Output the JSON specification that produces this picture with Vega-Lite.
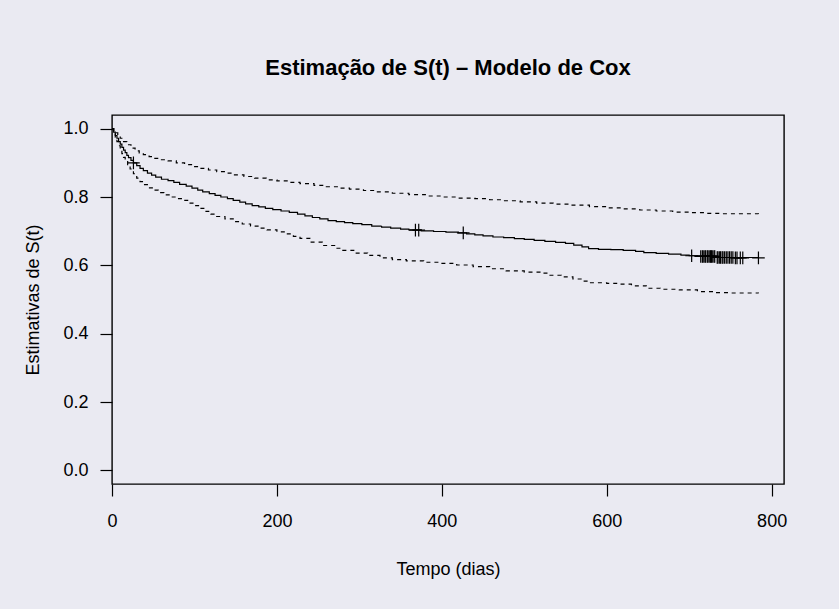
{
  "$schema": "https://vega.github.io/schema/vega-lite/v6.json",
  "width": 672,
  "height": 369,
  "autosize": {"type": "none"},
  "padding": {"left": 112, "top": 115, "right": 55, "bottom": 125},
  "background": "#eaeaf2",
  "title": {
    "text": "Estimação de S(t) – Modelo de Cox",
    "font": "Liberation Sans",
    "fontSize": 22,
    "fontWeight": "bold",
    "color": "black",
    "anchor": "middle",
    "offset": 35
  },
  "config": {
    "view": {"stroke": "black", "strokeWidth": 1.4, "fill": null},
    "axis": {
      "labelFont": "Liberation Sans",
      "labelFontSize": 18,
      "labelColor": "black",
      "labelFlush": false,
      "titleFont": "Liberation Sans",
      "titleFontSize": 18,
      "titleFontWeight": "normal",
      "titleColor": "black",
      "tickColor": "black",
      "tickSize": 12,
      "tickWidth": 1.2,
      "domain": false,
      "grid": false
    }
  },
  "datasets": {
    "curves": [
      {"t": 0, "s": 1.0, "band": "est"},
      {"t": 2, "s": 0.99, "band": "est"},
      {"t": 4, "s": 0.98, "band": "est"},
      {"t": 6, "s": 0.972, "band": "est"},
      {"t": 8, "s": 0.962, "band": "est"},
      {"t": 10, "s": 0.955, "band": "est"},
      {"t": 12, "s": 0.945, "band": "est"},
      {"t": 14, "s": 0.937, "band": "est"},
      {"t": 16, "s": 0.93, "band": "est"},
      {"t": 18, "s": 0.922, "band": "est"},
      {"t": 20, "s": 0.915, "band": "est"},
      {"t": 23, "s": 0.907, "band": "est"},
      {"t": 26, "s": 0.9, "band": "est"},
      {"t": 30, "s": 0.892, "band": "est"},
      {"t": 34, "s": 0.884, "band": "est"},
      {"t": 38, "s": 0.877, "band": "est"},
      {"t": 43, "s": 0.87, "band": "est"},
      {"t": 48, "s": 0.864, "band": "est"},
      {"t": 53, "s": 0.858, "band": "est"},
      {"t": 60, "s": 0.852, "band": "est"},
      {"t": 68, "s": 0.848, "band": "est"},
      {"t": 75, "s": 0.843, "band": "est"},
      {"t": 82, "s": 0.837, "band": "est"},
      {"t": 90, "s": 0.832, "band": "est"},
      {"t": 97, "s": 0.826, "band": "est"},
      {"t": 104, "s": 0.82, "band": "est"},
      {"t": 110, "s": 0.815, "band": "est"},
      {"t": 118, "s": 0.81, "band": "est"},
      {"t": 125, "s": 0.805, "band": "est"},
      {"t": 132, "s": 0.8, "band": "est"},
      {"t": 140, "s": 0.795, "band": "est"},
      {"t": 147, "s": 0.79, "band": "est"},
      {"t": 155, "s": 0.785, "band": "est"},
      {"t": 162, "s": 0.78, "band": "est"},
      {"t": 170, "s": 0.775, "band": "est"},
      {"t": 178, "s": 0.771, "band": "est"},
      {"t": 186, "s": 0.767, "band": "est"},
      {"t": 195, "s": 0.763, "band": "est"},
      {"t": 205, "s": 0.759, "band": "est"},
      {"t": 215, "s": 0.755, "band": "est"},
      {"t": 225, "s": 0.75, "band": "est"},
      {"t": 234, "s": 0.745, "band": "est"},
      {"t": 243, "s": 0.74, "band": "est"},
      {"t": 252, "s": 0.736, "band": "est"},
      {"t": 262, "s": 0.731, "band": "est"},
      {"t": 272, "s": 0.728, "band": "est"},
      {"t": 282, "s": 0.725, "band": "est"},
      {"t": 292, "s": 0.722, "band": "est"},
      {"t": 303, "s": 0.719, "band": "est"},
      {"t": 315, "s": 0.715, "band": "est"},
      {"t": 327, "s": 0.712, "band": "est"},
      {"t": 338, "s": 0.709, "band": "est"},
      {"t": 350, "s": 0.706, "band": "est"},
      {"t": 360, "s": 0.704, "band": "est"},
      {"t": 375, "s": 0.701, "band": "est"},
      {"t": 390, "s": 0.699, "band": "est"},
      {"t": 405, "s": 0.697, "band": "est"},
      {"t": 420, "s": 0.695, "band": "est"},
      {"t": 430, "s": 0.692, "band": "est"},
      {"t": 440, "s": 0.689, "band": "est"},
      {"t": 450, "s": 0.686, "band": "est"},
      {"t": 462, "s": 0.683, "band": "est"},
      {"t": 475, "s": 0.681, "band": "est"},
      {"t": 488, "s": 0.678, "band": "est"},
      {"t": 500, "s": 0.676, "band": "est"},
      {"t": 512, "s": 0.673, "band": "est"},
      {"t": 525, "s": 0.67, "band": "est"},
      {"t": 538, "s": 0.667, "band": "est"},
      {"t": 550, "s": 0.664, "band": "est"},
      {"t": 560, "s": 0.659, "band": "est"},
      {"t": 570, "s": 0.654, "band": "est"},
      {"t": 578, "s": 0.649, "band": "est"},
      {"t": 590, "s": 0.647, "band": "est"},
      {"t": 605, "s": 0.646, "band": "est"},
      {"t": 620, "s": 0.644, "band": "est"},
      {"t": 635, "s": 0.641, "band": "est"},
      {"t": 645, "s": 0.637, "band": "est"},
      {"t": 660, "s": 0.635, "band": "est"},
      {"t": 675, "s": 0.633, "band": "est"},
      {"t": 690, "s": 0.63, "band": "est"},
      {"t": 700, "s": 0.628, "band": "est"},
      {"t": 712, "s": 0.626, "band": "est"},
      {"t": 733, "s": 0.623, "band": "est"},
      {"t": 784, "s": 0.622, "band": "est"},
      {"t": 0, "s": 1.0, "band": "upper"},
      {"t": 2, "s": 0.995, "band": "upper"},
      {"t": 4, "s": 0.988, "band": "upper"},
      {"t": 7, "s": 0.98, "band": "upper"},
      {"t": 10, "s": 0.972, "band": "upper"},
      {"t": 14, "s": 0.962, "band": "upper"},
      {"t": 18, "s": 0.953, "band": "upper"},
      {"t": 23, "s": 0.943, "band": "upper"},
      {"t": 28, "s": 0.935, "band": "upper"},
      {"t": 33, "s": 0.929, "band": "upper"},
      {"t": 38, "s": 0.924, "band": "upper"},
      {"t": 45, "s": 0.918, "band": "upper"},
      {"t": 52, "s": 0.913, "band": "upper"},
      {"t": 60, "s": 0.909, "band": "upper"},
      {"t": 68, "s": 0.906, "band": "upper"},
      {"t": 78, "s": 0.9, "band": "upper"},
      {"t": 88, "s": 0.895, "band": "upper"},
      {"t": 98, "s": 0.889, "band": "upper"},
      {"t": 107, "s": 0.884, "band": "upper"},
      {"t": 117, "s": 0.879, "band": "upper"},
      {"t": 127, "s": 0.874, "band": "upper"},
      {"t": 137, "s": 0.87, "band": "upper"},
      {"t": 147, "s": 0.865, "band": "upper"},
      {"t": 160, "s": 0.86, "band": "upper"},
      {"t": 173, "s": 0.855, "band": "upper"},
      {"t": 187, "s": 0.85, "band": "upper"},
      {"t": 200, "s": 0.847, "band": "upper"},
      {"t": 214, "s": 0.843, "band": "upper"},
      {"t": 228, "s": 0.839, "band": "upper"},
      {"t": 245, "s": 0.834, "band": "upper"},
      {"t": 260, "s": 0.83, "band": "upper"},
      {"t": 275, "s": 0.826, "band": "upper"},
      {"t": 288, "s": 0.823, "band": "upper"},
      {"t": 305, "s": 0.819, "band": "upper"},
      {"t": 320, "s": 0.815, "band": "upper"},
      {"t": 340, "s": 0.811, "band": "upper"},
      {"t": 360, "s": 0.807, "band": "upper"},
      {"t": 380, "s": 0.803, "band": "upper"},
      {"t": 400, "s": 0.8, "band": "upper"},
      {"t": 420, "s": 0.797, "band": "upper"},
      {"t": 440, "s": 0.795, "band": "upper"},
      {"t": 458, "s": 0.792, "band": "upper"},
      {"t": 475, "s": 0.789, "band": "upper"},
      {"t": 495, "s": 0.786, "band": "upper"},
      {"t": 515, "s": 0.782, "band": "upper"},
      {"t": 535, "s": 0.779, "band": "upper"},
      {"t": 555, "s": 0.776, "band": "upper"},
      {"t": 579, "s": 0.772, "band": "upper"},
      {"t": 600, "s": 0.768, "band": "upper"},
      {"t": 620, "s": 0.765, "band": "upper"},
      {"t": 640, "s": 0.762, "band": "upper"},
      {"t": 660, "s": 0.759, "band": "upper"},
      {"t": 680, "s": 0.756, "band": "upper"},
      {"t": 700, "s": 0.754, "band": "upper"},
      {"t": 720, "s": 0.752, "band": "upper"},
      {"t": 740, "s": 0.751, "band": "upper"},
      {"t": 784, "s": 0.75, "band": "upper"},
      {"t": 0, "s": 1.0, "band": "lower"},
      {"t": 2, "s": 0.985, "band": "lower"},
      {"t": 4, "s": 0.975, "band": "lower"},
      {"t": 6, "s": 0.962, "band": "lower"},
      {"t": 8, "s": 0.95, "band": "lower"},
      {"t": 10, "s": 0.938, "band": "lower"},
      {"t": 12, "s": 0.927, "band": "lower"},
      {"t": 14, "s": 0.916, "band": "lower"},
      {"t": 16, "s": 0.907, "band": "lower"},
      {"t": 19, "s": 0.895, "band": "lower"},
      {"t": 22, "s": 0.882, "band": "lower"},
      {"t": 26, "s": 0.868, "band": "lower"},
      {"t": 30, "s": 0.855, "band": "lower"},
      {"t": 34, "s": 0.845, "band": "lower"},
      {"t": 38, "s": 0.836, "band": "lower"},
      {"t": 44, "s": 0.827, "band": "lower"},
      {"t": 50, "s": 0.82, "band": "lower"},
      {"t": 56, "s": 0.813, "band": "lower"},
      {"t": 63, "s": 0.806, "band": "lower"},
      {"t": 70, "s": 0.8, "band": "lower"},
      {"t": 78, "s": 0.795, "band": "lower"},
      {"t": 86, "s": 0.79, "band": "lower"},
      {"t": 93, "s": 0.782, "band": "lower"},
      {"t": 100, "s": 0.775, "band": "lower"},
      {"t": 107, "s": 0.767, "band": "lower"},
      {"t": 114, "s": 0.758, "band": "lower"},
      {"t": 120, "s": 0.75, "band": "lower"},
      {"t": 127, "s": 0.743, "band": "lower"},
      {"t": 137, "s": 0.736, "band": "lower"},
      {"t": 147, "s": 0.728, "band": "lower"},
      {"t": 158, "s": 0.721, "band": "lower"},
      {"t": 168, "s": 0.715, "band": "lower"},
      {"t": 178, "s": 0.709, "band": "lower"},
      {"t": 188, "s": 0.704, "band": "lower"},
      {"t": 200, "s": 0.698, "band": "lower"},
      {"t": 210, "s": 0.692, "band": "lower"},
      {"t": 220, "s": 0.685, "band": "lower"},
      {"t": 228, "s": 0.679, "band": "lower"},
      {"t": 240, "s": 0.668, "band": "lower"},
      {"t": 255, "s": 0.658, "band": "lower"},
      {"t": 270, "s": 0.65, "band": "lower"},
      {"t": 280, "s": 0.644, "band": "lower"},
      {"t": 295, "s": 0.636, "band": "lower"},
      {"t": 310, "s": 0.629, "band": "lower"},
      {"t": 325, "s": 0.622, "band": "lower"},
      {"t": 340, "s": 0.617, "band": "lower"},
      {"t": 357, "s": 0.613, "band": "lower"},
      {"t": 378, "s": 0.609, "band": "lower"},
      {"t": 398, "s": 0.606, "band": "lower"},
      {"t": 418, "s": 0.601, "band": "lower"},
      {"t": 438, "s": 0.596, "band": "lower"},
      {"t": 458, "s": 0.59, "band": "lower"},
      {"t": 478, "s": 0.584, "band": "lower"},
      {"t": 500, "s": 0.58, "band": "lower"},
      {"t": 519, "s": 0.577, "band": "lower"},
      {"t": 530, "s": 0.571, "band": "lower"},
      {"t": 545, "s": 0.566, "band": "lower"},
      {"t": 559, "s": 0.56, "band": "lower"},
      {"t": 570, "s": 0.554, "band": "lower"},
      {"t": 579, "s": 0.549, "band": "lower"},
      {"t": 600, "s": 0.547, "band": "lower"},
      {"t": 616, "s": 0.545, "band": "lower"},
      {"t": 630, "s": 0.54, "band": "lower"},
      {"t": 648, "s": 0.533, "band": "lower"},
      {"t": 665, "s": 0.53, "band": "lower"},
      {"t": 688, "s": 0.528, "band": "lower"},
      {"t": 710, "s": 0.523, "band": "lower"},
      {"t": 729, "s": 0.52, "band": "lower"},
      {"t": 750, "s": 0.519, "band": "lower"},
      {"t": 784, "s": 0.518, "band": "lower"}
    ],
    "censor": [
      {"t": 26, "s": 0.9},
      {"t": 368, "s": 0.703},
      {"t": 372, "s": 0.703},
      {"t": 426, "s": 0.695},
      {"t": 703, "s": 0.628},
      {"t": 714, "s": 0.626},
      {"t": 716, "s": 0.626},
      {"t": 717, "s": 0.626},
      {"t": 719, "s": 0.626},
      {"t": 720, "s": 0.626},
      {"t": 722, "s": 0.626},
      {"t": 723, "s": 0.626},
      {"t": 725, "s": 0.626},
      {"t": 726, "s": 0.626},
      {"t": 727, "s": 0.626},
      {"t": 728, "s": 0.626},
      {"t": 730, "s": 0.626},
      {"t": 731, "s": 0.626},
      {"t": 734, "s": 0.623},
      {"t": 735, "s": 0.623},
      {"t": 737, "s": 0.623},
      {"t": 738, "s": 0.623},
      {"t": 740, "s": 0.623},
      {"t": 741, "s": 0.623},
      {"t": 743, "s": 0.623},
      {"t": 745, "s": 0.623},
      {"t": 747, "s": 0.623},
      {"t": 749, "s": 0.623},
      {"t": 751, "s": 0.623},
      {"t": 753, "s": 0.623},
      {"t": 756, "s": 0.622},
      {"t": 758, "s": 0.622},
      {"t": 762, "s": 0.622},
      {"t": 765, "s": 0.622},
      {"t": 784, "s": 0.622}
    ]
  },
  "layer": [
    {
      "data": {"name": "curves"},
      "mark": {"type": "line", "interpolate": "step-after", "color": "black", "strokeWidth": 1.2, "clip": true},
      "encoding": {
        "x": {
          "field": "t", "type": "quantitative",
          "scale": {"domain": [0, 815], "nice": false, "zero": false},
          "axis": {"values": [0, 200, 400, 600, 800], "title": "Tempo (dias)", "labelPadding": 16, "titlePadding": 30}
        },
        "y": {
          "field": "s", "type": "quantitative",
          "scale": {"domain": [-0.04, 1.04], "nice": false, "zero": false},
          "axis": {"values": [0, 0.2, 0.4, 0.6, 0.8, 1.0], "format": ".1f", "title": "Estimativas de S(t)", "labelPadding": 12, "titlePadding": 20}
        },
        "detail": {"field": "band"},
        "strokeDash": {
          "field": "band", "type": "nominal",
          "scale": {"domain": ["est", "upper", "lower"], "range": [[1, 0], [4, 4], [4, 4]]},
          "legend": null
        }
      }
    },
    {
      "data": {"name": "censor"},
      "mark": {"type": "point", "shape": "M-1,0L1,0M0,-1L0,1", "filled": false, "stroke": "black", "strokeWidth": 1.2, "size": 160, "opacity": 1},
      "encoding": {
        "x": {"field": "t", "type": "quantitative"},
        "y": {"field": "s", "type": "quantitative"}
      }
    }
  ]
}
